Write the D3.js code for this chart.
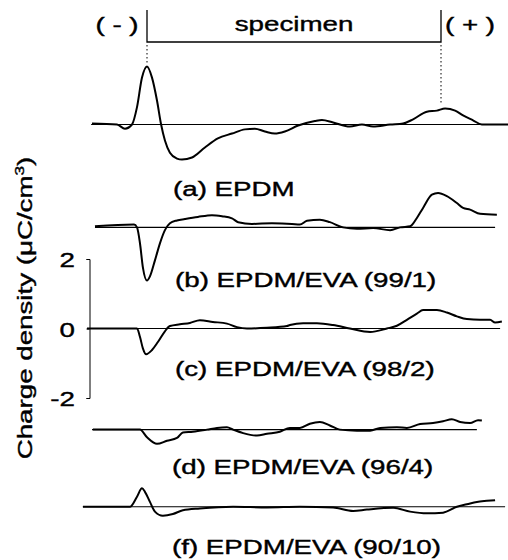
<!DOCTYPE html>
<html>
<head>
<meta charset="utf-8">
<script src="https://cdn.jsdelivr.net/npm/d3@7"></script>
<style>
  body { margin: 0; background: #fff; }
  text { font-family: "Liberation Sans", Arial, sans-serif; fill: #000; stroke: #000; stroke-width: 0.4px; }
</style>
</head>
<body>
<div id="plot-container"></div>
<script>
// position across the sample (0 = (-) electrode, 1 = (+) electrode) and charge density
const traceA = [[-0.187,0.03],[-0.102,0],[-0.075,-0.12],[-0.051,0],[-0.034,0.5],[-0.017,1.35],[0,1.67],[0.017,1.35],[0.034,0.69],[0.048,0],[0.061,-0.46],[0.078,-0.81],[0.102,-0.98],[0.119,-1.01],[0.153,-0.95],[0.197,-0.66],[0.241,-0.40],[0.289,-0.26],[0.333,-0.14],[0.367,-0.12],[0.401,-0.2],[0.435,-0.26],[0.469,-0.2],[0.514,-0.03],[0.571,0.1],[0.595,0.13],[0.633,0.06],[0.690,-0.06],[0.731,0],[0.769,-0.06],[0.827,0],[0.871,0.03],[0.905,0.15],[0.952,0.37],[0.986,0.4],[1.014,0.46],[1.048,0.4],[1.075,0.26],[1.109,0.12],[1.139,0],[1.228,0]];
const traceB = [[-0.177,0.03],[-0.044,0.08],[-0.034,0],[-0.024,-0.45],[-0.014,-1.15],[0,-1.53],[0.010,-1.41],[0.027,-0.95],[0.044,-0.46],[0.061,-0.08],[0.078,0.12],[0.102,0.2],[0.129,0.24],[0.173,0.3],[0.221,0.35],[0.255,0.32],[0.289,0.26],[0.310,0.15],[0.357,0.1],[0.425,0.12],[0.493,0.1],[0.520,0.08],[0.544,0.19],[0.588,0.22],[0.622,0.15],[0.667,0],[0.714,-0.04],[0.769,-0.02],[0.827,-0.08],[0.861,0],[0.895,0.03],[0.918,0.27],[0.939,0.56],[0.969,0.94],[0.990,0.99],[1.020,0.9],[1.054,0.7],[1.075,0.56],[1.099,0.51],[1.133,0.39],[1.190,0.36]];
const traceC = [[-0.204,0],[-0.116,0],[-0.034,0],[-0.024,-0.24],[-0.014,-0.57],[-0.003,-0.74],[0.017,-0.62],[0.037,-0.39],[0.061,-0.08],[0.078,0.07],[0.112,0.12],[0.146,0.16],[0.180,0.24],[0.224,0.19],[0.272,0.14],[0.306,0.04],[0.340,0],[0.408,0.02],[0.476,0.07],[0.486,0.1],[0.531,0.15],[0.578,0.15],[0.633,0.1],[0.690,0],[0.759,-0.1],[0.816,0],[0.850,0.08],[0.884,0.25],[0.918,0.43],[0.939,0.53],[0.986,0.53],[1.020,0.46],[1.054,0.35],[1.088,0.27],[1.133,0.25],[1.167,0.25],[1.184,0.17],[1.207,0.2]];
const traceD = [[-0.184,0],[-0.024,0],[0,-0.22],[0.034,-0.41],[0.068,-0.32],[0.102,-0.24],[0.122,-0.08],[0.156,-0.06],[0.204,0],[0.238,0.05],[0.272,0.07],[0.293,0],[0.327,-0.1],[0.374,-0.17],[0.408,-0.12],[0.452,-0.06],[0.486,0.05],[0.520,0.05],[0.554,0.17],[0.588,0.22],[0.622,0.12],[0.656,0],[0.714,-0.03],[0.759,-0.03],[0.793,0.05],[0.850,0.07],[0.884,0.05],[0.929,0.16],[0.973,0.19],[1.007,0.24],[1.037,0.3],[1.065,0.22],[1.099,0.19],[1.126,0.27],[1.139,0.26]];
const traceF = [[-0.218,0],[-0.058,0],[-0.034,0.29],[-0.017,0.53],[-0.007,0.43],[0.010,0.14],[0.027,-0.14],[0.054,-0.26],[0.088,-0.21],[0.122,-0.1],[0.180,-0.05],[0.293,0],[0.408,-0.02],[0.520,0],[0.633,-0.02],[0.701,-0.12],[0.748,-0.08],[0.837,-0.03],[0.895,-0.14],[0.952,-0.19],[1.007,-0.17],[1.054,0],[1.088,0.07],[1.122,0.14],[1.156,0.17],[1.184,0.19]];

const labels   = ["(a) EPDM", "(b) EPDM/EVA (99/1)", "(c) EPDM/EVA (98/2)", "(d) EPDM/EVA (96/4)", "(f) EPDM/EVA (90/10)"];
const offsets  = [5.87, 2.91, 0, -2.91, -5.13];          // vertical shift of each profile
const baseSpan = [[-0.190, 1.228], [-0.177, 1.184], [-0.204, 1.201], [-0.187, 1.122], [-0.218, 1.218]];
const yTicks   = [-2, 0, 2];

const traces = [traceA, traceB, traceC, traceD, traceF];

const W = 508, H = 560;
const sx = 1.32;   // the original lettering is wide

const svg = d3.select("#plot-container")
    .append("svg")
    .attr("width", W)
    .attr("height", H);

const x = d3.scaleLinear().domain([0, 1]).range([147, 441]);
const y = d3.scaleLinear().domain([-2, 2]).range([398, 259]);

function label(txt, px, py, anchor) {
    return svg.append("text")
        .attr("transform", `translate(${px},${py}) scale(${sx},1)`)
        .attr("text-anchor", anchor || "start")
        .style("font-size", "21px")
        .text(txt);
}

    // axis
const axis = svg.append("g")
    .attr("transform", "translate(89.5,0)")
    .call(d3.axisLeft(y).tickValues(yTicks).tickSize(3).tickFormat(d => String(d)));
axis.selectAll(".domain").attr("stroke", "#000");
axis.selectAll(".tick line").attr("stroke", "#000");
axis.selectAll(".tick text")
    .attr("x", -11)
    .attr("dy", "0.36em")
    .attr("transform", `scale(${sx},1)`)
    .style("font-size", "21px")
    .style("font-family", "'Liberation Sans', Arial, sans-serif");

    // axis title
svg.append("text")
    .attr("transform", `translate(32,308) rotate(-90) scale(${sx},1)`)
    .attr("text-anchor", "middle")
    .style("font-size", "21px")
    .html("Charge density (&#956;C/cm<tspan dy='-8' style='font-size:13px'>3</tspan><tspan dy='8'>)</tspan>");

    // baselines and profiles
const line = d3.line()
    .x(d => x(d[0]))
    .curve(d3.curveMonotoneX);

traces.forEach((t, i) => {
    svg.append("line")
        .attr("x1", x(baseSpan[i][0]))
        .attr("x2", x(baseSpan[i][1]))
        .attr("y1", y(offsets[i]))
        .attr("y2", y(offsets[i]))
        .attr("stroke", "#000")
        .attr("stroke-width", 1.1);

    svg.append("path")
        .datum(t)
        .attr("fill", "none")
        .attr("stroke", "#000")
        .attr("stroke-width", 2)
        .attr("stroke-linejoin", "round")
        .attr("d", line.y(d => y(d[1] + offsets[i])));
});

    // profile names
const labelPos = [[173, 196], [175, 287], [175, 376], [172, 474], [172, 554]];
labels.forEach((l, i) => label(l, labelPos[i][0], labelPos[i][1]));

    // specimen bracket on top
const bracketY = 42;
svg.append("path")
    .attr("d", `M${x(0)},10V${bracketY}H${x(1)}V10`)
    .attr("fill", "none")
    .attr("stroke", "#000")
    .attr("stroke-width", 1.3);

svg.append("line")
    .attr("x1", x(0)).attr("x2", x(0))
    .attr("y1", bracketY + 3).attr("y2", y(traceA[6][1] + offsets[0]) - 3)
    .attr("stroke", "#000").attr("stroke-dasharray", "1.5,2.5");
svg.append("line")
    .attr("x1", x(1)).attr("x2", x(1))
    .attr("y1", bracketY + 3).attr("y2", y(traceA[36][1] + offsets[0]) - 8)
    .attr("stroke", "#000").attr("stroke-dasharray", "1.5,2.5");

label("( - )", x(0) - 30, 32, "middle");
label("specimen", (x(0) + x(1)) / 2, 31, "middle");
label("( + )", x(1) + 29, 32, "middle");
</script>
</body>
</html>
